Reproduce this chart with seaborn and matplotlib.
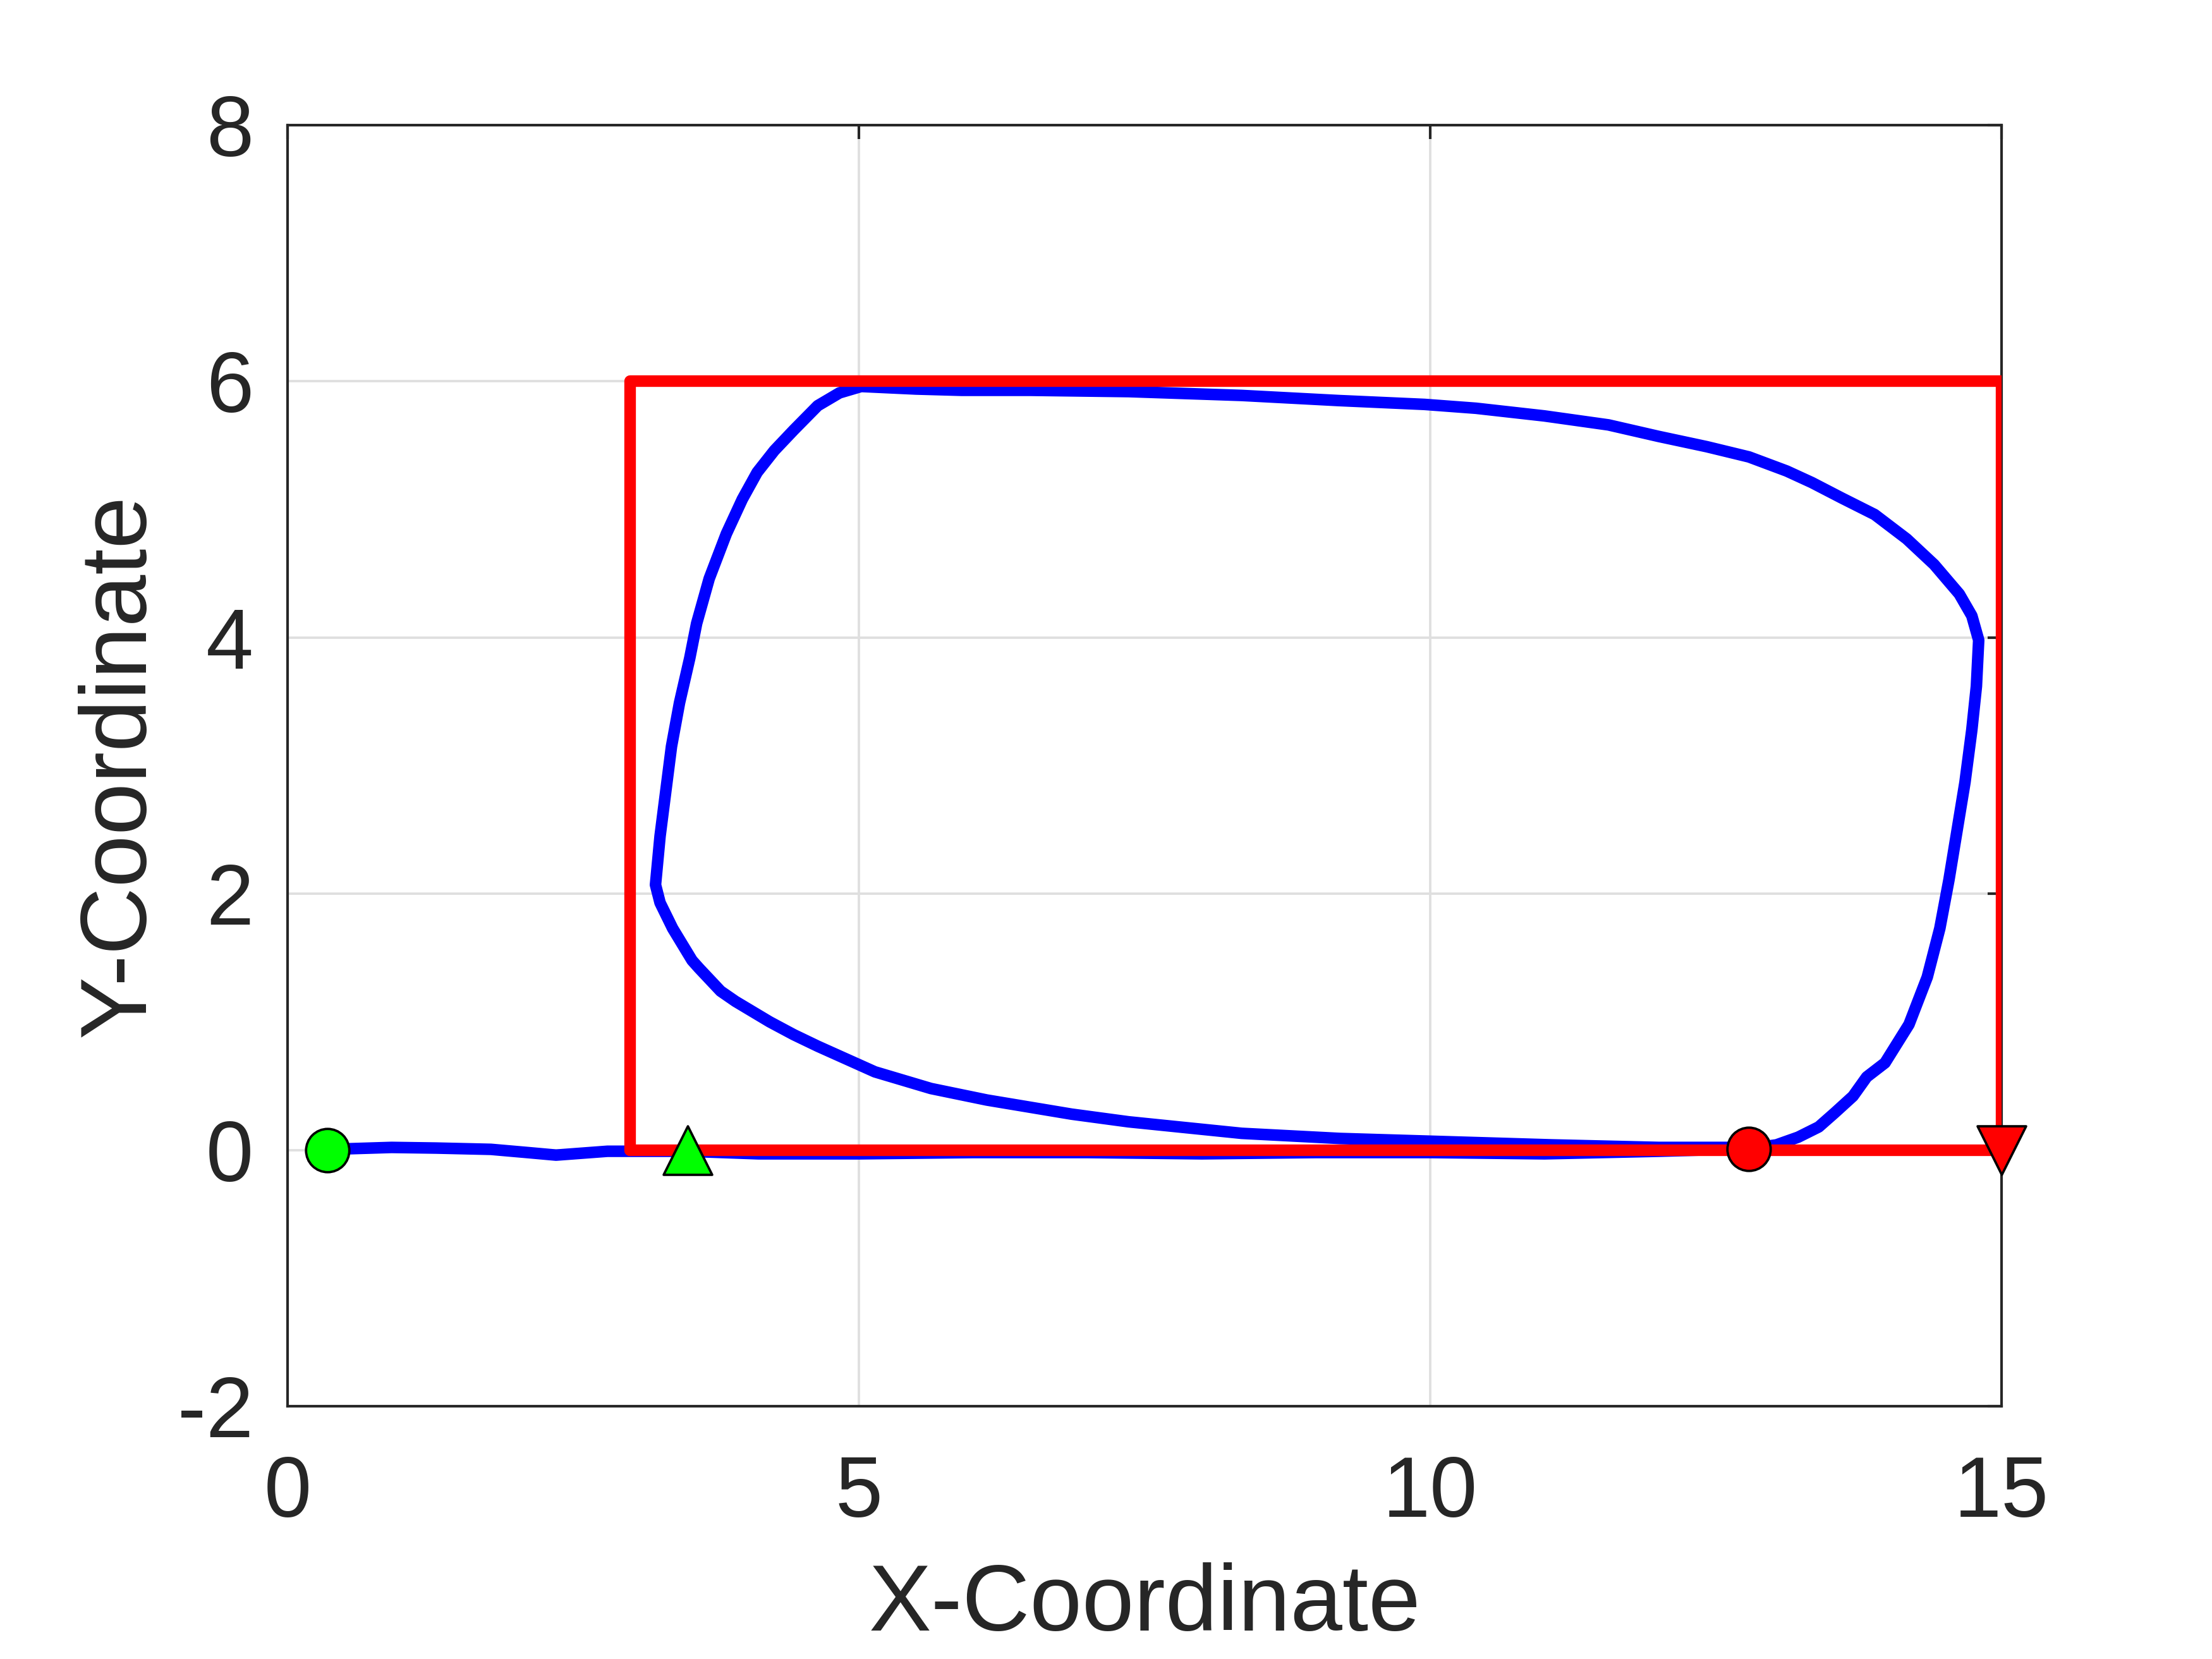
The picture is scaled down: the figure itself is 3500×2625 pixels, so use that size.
import matplotlib
matplotlib.use("Agg")
import matplotlib.pyplot as plt
import seaborn as sns

# measured trajectory (blue): outbound along y=0, loop counter-clockwise, back along lower curve
traj_x = [0.35, 0.55, 0.91, 1.30, 1.78, 2.10, 2.35, 2.80, 3.00, 3.50, 4.12, 5.00, 6.00, 7.00,
          8.00, 9.00, 10.00, 11.00, 12.00, 12.79, 13.03, 13.22, 13.40, 13.54, 13.70, 13.82,
          13.98, 14.19, 14.35, 14.46, 14.54, 14.61, 14.68, 14.74, 14.78, 14.80,
          14.74, 14.63, 14.41, 14.17, 13.89, 13.60, 13.34, 13.12, 12.79, 12.42, 12.00, 11.56,
          11.00, 10.40, 9.95, 9.20, 8.35, 7.36, 6.50, 5.90, 5.50, 5.02, 4.83, 4.64, 4.43,
          4.26, 4.11, 3.98, 3.84, 3.69, 3.58, 3.52, 3.43, 3.36, 3.31, 3.26, 3.22, 3.26,
          3.37, 3.54, 3.60, 3.79, 3.92, 4.22, 4.43, 4.64, 5.14, 5.63, 6.12, 6.86, 7.36,
          8.35, 9.21, 9.95, 11.06, 12.00, 12.50, 12.79]
traj_y = [0.00, 0.01, 0.02, 0.015, 0.005, -0.02, -0.04, -0.01, -0.01, -0.01, -0.03, -0.03,
          -0.02, -0.02, -0.03, -0.02, -0.02, -0.03, -0.01, 0.01, 0.04, 0.10, 0.18, 0.29,
          0.42, 0.57, 0.68, 0.98, 1.35, 1.73, 2.11, 2.49, 2.87, 3.28, 3.62, 3.98,
          4.17, 4.34, 4.57, 4.77, 4.96, 5.09, 5.21, 5.30, 5.41, 5.49, 5.57, 5.66,
          5.73, 5.79, 5.82, 5.85, 5.89, 5.92, 5.93, 5.93, 5.94, 5.96, 5.91, 5.81, 5.62,
          5.46, 5.29, 5.08, 4.81, 4.46, 4.11, 3.84, 3.49, 3.15, 2.80, 2.45, 2.07, 1.93,
          1.73, 1.48, 1.42, 1.24, 1.16, 1.00, 0.90, 0.81, 0.61, 0.48, 0.39, 0.28, 0.22,
          0.13, 0.09, 0.07, 0.04, 0.02, 0.02, 0.02]

# reference path (red)
ref_x = [3, 3, 15, 15, 3]
ref_y = [0, 6, 6, 0, 0]

# start / end markers
traj_start = (0.35, 0.0)
traj_end = (12.79, 0.01)
ref_start = (3.5, 0.0)
ref_end = (15.0, 0.0)

xticks = [0, 5, 10, 15]
yticks = [-2, 0, 2, 4, 6, 8]

sns.set_style("white")
plt.rcParams['font.family'] = ['Liberation Sans', 'DejaVu Sans']
plt.rcParams['text.color'] = '#262626'

fig = plt.figure(figsize=(3500 / 300, 2625 / 300), dpi=300)
ax = fig.add_axes([455 / 3500, 1 - 2225 / 2625, (3167 - 455) / 3500, (2225 - 198) / 2625])

sns.lineplot(x=traj_x, y=traj_y, sort=False, estimator=None, color='#0000ff',
             linewidth=4.4, ax=ax, zorder=2)
sns.lineplot(x=ref_x, y=ref_y, sort=False, estimator=None, color='#ff0000',
             linewidth=4.4, ax=ax, zorder=3)
ax.lines[-1].set_solid_joinstyle('round')
ax.lines[-2].set_solid_joinstyle('round')

sns.scatterplot(x=[traj_start[0]], y=[traj_start[1]], marker='o', s=270, color='#00ff00',
                edgecolor='black', linewidth=0.9, ax=ax, zorder=5)
sns.scatterplot(x=[traj_end[0]], y=[traj_end[1]], marker='o', s=270, color='#ff0000',
                edgecolor='black', linewidth=0.9, ax=ax, zorder=5)
sns.scatterplot(x=[ref_start[0]], y=[ref_start[1]], marker='^', s=340, color='#00ff00',
                edgecolor='black', linewidth=0.9, ax=ax, zorder=5)
sns.scatterplot(x=[ref_end[0]], y=[ref_end[1]], marker='v', s=340, color='#ff0000',
                edgecolor='black', linewidth=0.9, ax=ax, zorder=5, clip_on=False)

ax.set_xlim(0, 15)
ax.set_ylim(-2, 8)
ax.set_xticks(xticks)
ax.set_yticks(yticks)
ax.set_xticklabels([str(v) for v in xticks])
ax.set_yticklabels([str(v) for v in yticks])
ax.grid(True, color='#dfdfdf', linewidth=0.9)
ax.set_axisbelow(True)

for sp in ax.spines.values():
    sp.set_visible(True)
    sp.set_color('#262626')
    sp.set_linewidth(1.0)
ax.tick_params(direction='in', length=5.3, width=1.0, color='#262626', labelsize=32.4,
               labelcolor='#262626', top=True, right=True, pad=13)
ax.tick_params(axis='x', pad=18.5)

ax.set_xlabel('X-Coordinate', fontsize=35.6, color='#262626', labelpad=10.5)
ax.set_ylabel('Y-Coordinate', fontsize=35.6, color='#262626', labelpad=5)

fig.savefig('out.png', dpi=300, facecolor='white')
plt.close(fig)
